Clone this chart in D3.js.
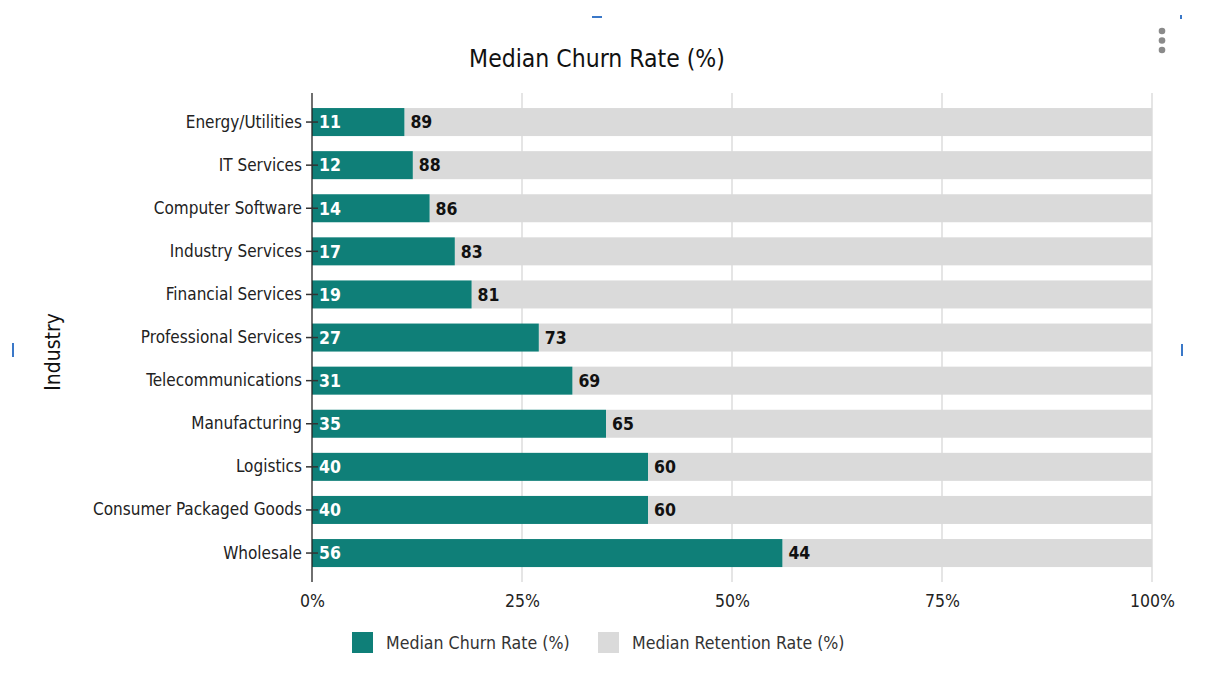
<!DOCTYPE html>
<html><head><meta charset="utf-8">
<script src="https://cdn.jsdelivr.net/npm/d3@7"></script>
<style>
html,body{margin:0;padding:0;background:#fff;}
svg{display:block;font-family:"DejaVu Sans Condensed","DejaVu Sans",sans-serif;}
</style></head>
<body>
<svg id="chart" width="1208" height="680"></svg>
<script>
const categories = ["Energy/Utilities","IT Services","Computer Software","Industry Services","Financial Services","Professional Services","Telecommunications","Manufacturing","Logistics","Consumer Packaged Goods","Wholesale"];
const churn = [11,12,14,17,19,27,31,35,40,40,56];
const retention = [89,88,86,83,81,73,69,65,60,60,44];
const tickValues = [0,25,50,75,100];
const seriesNames = ["Median Churn Rate (%)","Median Retention Rate (%)"];
const colors = ["#0f7f78","#dadada"];

const FONT = "'DejaVu Sans Condensed','DejaVu Sans',sans-serif";
const svg = d3.select("#chart");
const x = d3.scaleLinear().domain([0,100]).range([312,1152]);
const y = d3.scaleBand().domain(categories).range([100.5,574.6]).paddingInner(0.35).paddingOuter(0.175);

// gridlines
svg.append("g").selectAll("line").data(tickValues.slice(1)).join("line")
  .attr("x1",d=>x(d)).attr("x2",d=>x(d)).attr("y1",93).attr("y2",582)
  .attr("stroke","#d4d4d4").attr("stroke-width",1.2);

const rows = categories.map((c,i)=>({c, churn:churn[i], ret:retention[i]}));
// retention bars
svg.append("g").selectAll("rect").data(rows).join("rect")
  .attr("x",d=>x(d.churn)).attr("width",d=>x(d.churn+d.ret)-x(d.churn))
  .attr("y",d=>y(d.c)).attr("height",y.bandwidth()).attr("fill",colors[1]);
// churn bars
svg.append("g").selectAll("rect").data(rows).join("rect")
  .attr("x",x(0)).attr("width",d=>x(d.churn)-x(0))
  .attr("y",d=>y(d.c)).attr("height",y.bandwidth()).attr("fill",colors[0]);

// y axis
const yAxis = svg.append("g").attr("transform","translate(312,0)")
  .call(d3.axisLeft(y).tickSize(6).tickPadding(4));
yAxis.select(".domain").attr("d","M0,93V582").attr("stroke","#222").attr("stroke-width",1.3);
yAxis.selectAll(".tick line").attr("x1",6).attr("x2",-6).attr("stroke","#333").attr("stroke-width",1.5);
yAxis.selectAll(".tick text").attr("font-size",17).attr("fill","#222").attr("x",-10)
  .attr("font-family",FONT);

// x axis labels
const xAxis = svg.append("g").attr("transform","translate(0,582)")
  .call(d3.axisBottom(x).tickValues(tickValues).tickFormat(d=>d+"%").tickSize(0).tickPadding(12.6));
xAxis.select(".domain").remove();
xAxis.selectAll(".tick text").attr("font-size",17.5).attr("fill","#222")
  .attr("font-family",FONT);

// value labels
svg.append("g").selectAll("text").data(rows).join("text")
  .attr("x",x(0)+7).attr("y",d=>y(d.c)+y.bandwidth()/2).attr("dy","0.36em")
  .attr("fill","#fff").attr("font-weight","bold").attr("font-size",17.5)
  .attr("font-family",FONT)
  .text(d=>d.churn);
svg.append("g").selectAll("text").data(rows).join("text")
  .attr("x",d=>x(d.churn)+6).attr("y",d=>y(d.c)+y.bandwidth()/2).attr("dy","0.36em")
  .attr("fill","#111").attr("font-weight","bold").attr("font-size",17.5)
  .attr("font-family",FONT)
  .text(d=>d.ret);

// title
svg.append("text").attr("x",597).attr("y",67).attr("text-anchor","middle")
  .attr("font-size",24.5).attr("fill","#111").text("Median Churn Rate (%)");

// y title
svg.append("text").attr("transform","translate(60,352) rotate(-90)").attr("text-anchor","middle")
  .attr("font-size",21).attr("fill","#111").text("Industry");

// legend
const legendX = [352,598];
const lg = svg.append("g").selectAll("g").data(seriesNames).join("g")
  .attr("transform",(d,i)=>`translate(${legendX[i]},632)`);
lg.append("rect").attr("width",21).attr("height",21).attr("fill",(d,i)=>colors[i]);
lg.append("text").attr("x",34).attr("y",10.5).attr("dy","0.36em").attr("font-size",17.6)
  .attr("fill","#333").text(d=>d);

// menu dots
svg.append("g").selectAll("circle").data([0,1,2]).join("circle")
  .attr("cx",1162).attr("cy",(d,i)=>31+i*9.5).attr("r",3.3).attr("fill","#8a8a8a");

// selection handle marks
const marks = [[592,16,10,2],[1180,15,2,4],[12,343,2,14],[1181,344,2,12]];
svg.append("g").selectAll("rect").data(marks).join("rect")
  .attr("x",d=>d[0]).attr("y",d=>d[1]).attr("width",d=>d[2]).attr("height",d=>d[3]).attr("fill","#3a78c8");
</script>
</body></html>
